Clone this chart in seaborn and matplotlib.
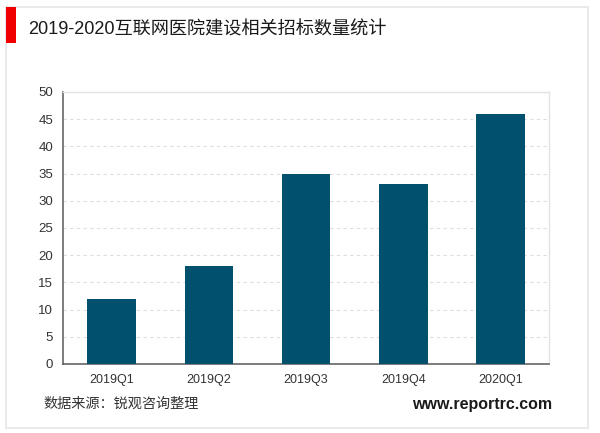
import matplotlib
matplotlib.use('Agg')
import matplotlib.pyplot as plt
from matplotlib.patches import Rectangle
import pandas as pd
import seaborn as sns

quarters = ['2019Q1', '2019Q2', '2019Q3', '2019Q4', '2020Q1']
counts = [12, 18, 35, 33, 46]
y_ticks = [0, 5, 10, 15, 20, 25, 30, 35, 40, 45, 50]
title = '2019-2020互联网医院建设相关招标数量统计'
source = '数据来源：锐观咨询整理'
site = 'www.reportrc.com'

sns.set_theme(style='white')
plt.rcParams['font.family'] = ['Liberation Sans', 'Noto Sans CJK SC', 'DejaVu Sans']

df = pd.DataFrame({'quarter': quarters, 'count': counts})

W, H = 600, 433
fig = plt.figure(figsize=(6, 4.33), dpi=100)
ax = fig.add_axes([63 / W, 1 - 364 / H, 486 / W, 272 / H])

sns.barplot(data=df, x='quarter', y='count', color='#00506e', saturation=1, width=0.5, linewidth=0, ax=ax, zorder=3)
ax.set_xlim(-0.5, 4.5)
ax.set_ylim(0, 50)
ax.set_yticks(y_ticks)
ax.set_xlabel('')
ax.set_ylabel('')
ax.tick_params(axis='x', length=0, labelsize=9, labelcolor='#333333', pad=7)
ax.tick_params(axis='y', length=0, labelsize=9.5, labelcolor='#333333', pad=7)
ax.yaxis.grid(True, color='#dedede', linestyle=(0, (3, 3)), linewidth=0.8)
ax.set_axisbelow(True)
for side in ['top', 'right']:
    ax.spines[side].set_color('#e3e3e3')
    ax.spines[side].set_linewidth(1)
for side in ['left', 'bottom']:
    ax.spines[side].set_color('#595959')
    ax.spines[side].set_linewidth(1.1)

# outer frame and red marker
fig.add_artist(Rectangle((6 / W, 1 - 428 / H), 582 / W, 421 / H, transform=fig.transFigure,
                         fill=False, edgecolor='#e6e6e6', linewidth=1.2))
fig.add_artist(Rectangle((6 / W, 1 - 43 / H), 10 / W, 36 / H, transform=fig.transFigure,
                         facecolor='#f00000', edgecolor='none'))

fig.text(28 / W, 1 - 30 / H, title, fontsize=13.1, color='#1a1a1a', va='center', ha='left')
fig.text(43 / W, 1 - 404 / H, source, fontsize=10.2, color='#333333', va='center', ha='left')
fig.text(552 / W, 1 - 404 / H, site, fontsize=11.5, fontweight='bold', color='#1a1a1a', va='center', ha='right',
         family='Liberation Sans')

plt.savefig('out.png', dpi=100)
